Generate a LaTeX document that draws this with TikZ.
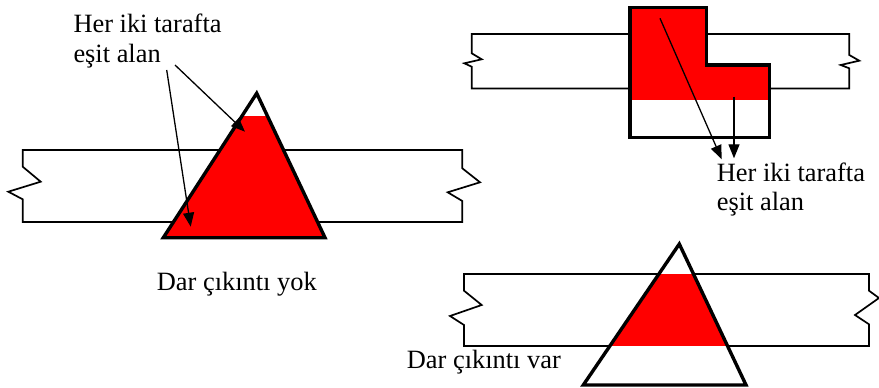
\documentclass[tikz,border=0pt]{standalone}
\usepackage{fontspec}
\setmainfont{Liberation Serif}
\usetikzlibrary{arrows.meta,positioning,calc}

\begin{document}
\begin{tikzpicture}[
  x=1pt, y=-1pt,
  font=\fontsize{26.4}{30}\selectfont,
  beam/.style={draw, line width=1.7pt, line join=miter, fill=white},
  piece/.style={draw, line width=3.4pt, line join=miter},
  arrow/.style={-{Triangle[length=14pt,width=11pt]}, line width=1.3pt},
  lbl/.style={inner sep=0pt, anchor=base west}
]
  \useasboundingbox (0,0) rectangle (879,388);

  % Left: beam with triangular column, no narrow overhang
  \draw[beam] (22.7,150) -- (462.3,150) -- (462.3,168.3) -- (480,182.3) -- (447.7,192.3) -- (462.3,201) -- (462.3,222)
    -- (22.7,222) -- (22.7,199.3) -- (8.3,191.7) -- (40.7,181.7) -- (22.7,166.7) -- cycle;
  \coordinate (ltop) at (256.7,93.3);
  \coordinate (lleft) at (163.3,237.7);
  \coordinate (lright) at (325,237.7);
  \fill[white] (ltop) -- (lleft) -- (lright) -- cycle;
  \begin{scope}
    \clip (ltop) -- (lleft) -- (lright) -- cycle;
    \fill[red] (150,115.7) rectangle (340,240);
  \end{scope}
  \draw[piece] (ltop) -- (lleft) -- (lright) -- cycle;

  \node[lbl] (ltxt1) at (73.3,32) {Her iki tarafta};
  \node[lbl] (ltxt2) at ($(ltxt1.base west)+(0,30)$) {eşit alan};
  \coordinate (la1) at (175,65);
  \coordinate (la2) at (166.7,70);
  \coordinate (lup) at (245,131.7);
  \coordinate (ldown) at (190.7,226.7);
  \draw[arrow] (la1) -- (lup);
  \draw[arrow] (la2) -- (ldown);
  \node[lbl] (lcap) at (156.7,290.7) {Dar çıkıntı yok};

  % Top right: beam with L-shaped column
  \draw[beam] (471.7,34) -- (849.3,34) -- (849.3,55) -- (859.3,60.7) -- (840.7,65) -- (849.3,68.3) -- (849.3,88.5)
    -- (471.7,88.5) -- (471.7,66.7) -- (464.3,63.3) -- (481.7,59.3) -- (471.7,53.3) -- cycle;
  \coordinate (c1) at (630,7.3);
  \coordinate (c2) at (706.7,7.3);
  \coordinate (c3) at (706.7,65);
  \coordinate (c4) at (769.3,65);
  \coordinate (c5) at (769.3,137.3);
  \coordinate (c6) at (630,137.3);
  \fill[white] (c1) -- (c2) -- (c3) -- (c4) -- (c5) -- (c6) -- cycle;
  \begin{scope}
    \clip (c1) -- (c2) -- (c3) -- (c4) -- (c5) -- (c6) -- cycle;
    \fill[red] (620,0) rectangle (780,100);
  \end{scope}
  \draw[piece] (c1) -- (c2) -- (c3) -- (c4) -- (c5) -- (c6) -- cycle;

  \coordinate (ra1) at (660,18.3);
  \coordinate (ra2) at (734,96.7);
  \coordinate (rend1) at (721.7,159.3);
  \coordinate (rend2) at (734,158.3);
  \draw[arrow] (ra1) -- (rend1);
  \draw[arrow] (ra2) -- (rend2);
  \node[lbl] (rtxt1) at (716.7,181.7) {Her iki tarafta};
  \node[lbl] (rtxt2) at ($(rtxt1.base west)+(0,29)$) {eşit alan};

  % Bottom right: beam with triangular column, narrow overhang
  \draw[beam] (464,274) -- (869,274) -- (869,290.7) -- (879,298) -- (855,315) -- (869,324.3) -- (869,346)
    -- (464,346) -- (464,325) -- (450,316) -- (481.7,305) -- (464,290.7) -- cycle;
  \coordinate (btop) at (679.3,244);
  \coordinate (bleft) at (583.3,385);
  \coordinate (bright) at (746,385);
  \fill[white] (btop) -- (bleft) -- (bright) -- cycle;
  \begin{scope}
    \clip (btop) -- (bleft) -- (bright) -- cycle;
    \fill[red] (570,274) rectangle (760,346);
  \end{scope}
  \draw[piece] (btop) -- (bleft) -- (bright) -- cycle;
  \node[lbl] (bcap) at (406.7,368.3) {Dar çıkıntı var};
\end{tikzpicture}
\end{document}
